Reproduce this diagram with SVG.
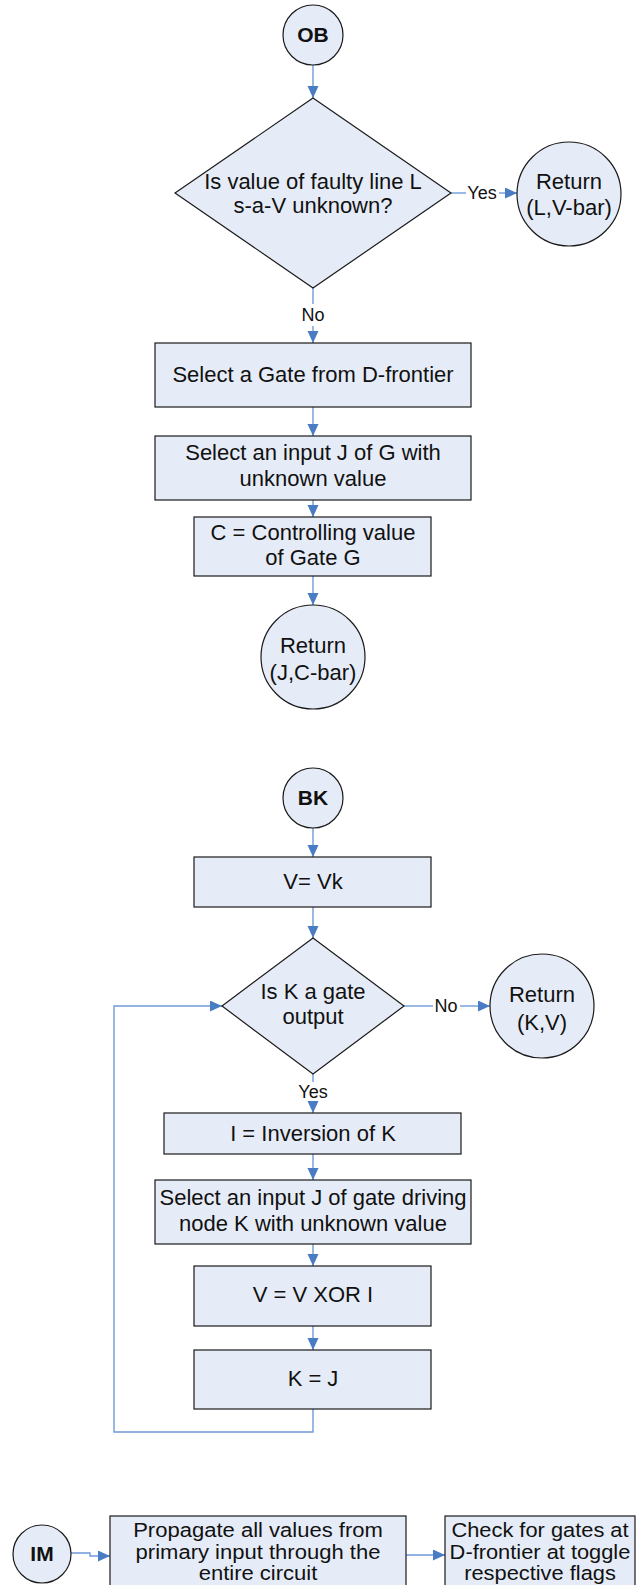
<svg xmlns="http://www.w3.org/2000/svg" width="638" height="1585" viewBox="0 0 638 1585">
<style>
.n{fill:#e6ecf7;stroke:#1a1a1a;stroke-width:1.2}
.t{font-family:"Liberation Sans",Arial,sans-serif;font-size:22px;fill:#111;text-anchor:middle}
.b{font-family:"Liberation Sans",Arial,sans-serif;font-size:21px;font-weight:bold;fill:#111;text-anchor:middle}
.s{font-family:"Liberation Sans",Arial,sans-serif;font-size:19.5px;fill:#111;text-anchor:middle}
.l{font-family:"Liberation Sans",Arial,sans-serif;font-size:18px;fill:#111;text-anchor:middle}
.c{fill:none;stroke:#6f9bd8;stroke-width:1.4}
</style>
<defs>
<marker id="a" markerUnits="userSpaceOnUse" markerWidth="13" markerHeight="12" refX="12" refY="5.5" orient="auto">
<path d="M0,0 L12,5.5 L0,11 z" fill="#4a7cc4"/>
</marker>
</defs>
<rect width="638" height="1585" fill="#fff"/>
<g id="connectors">
<path class="c" d="M313,65 V98" marker-end="url(#a)"/>
<path class="c" d="M451,193 H466"/>
<path class="c" d="M499,193 H517" marker-end="url(#a)"/>
<path class="c" d="M313,288 V304"/>
<path class="c" d="M313,326 V343" marker-end="url(#a)"/>
<path class="c" d="M313,407 V436" marker-end="url(#a)"/>
<path class="c" d="M313,500 V517" marker-end="url(#a)"/>
<path class="c" d="M313,576 V605" marker-end="url(#a)"/>
<path class="c" d="M313,828 V857" marker-end="url(#a)"/>
<path class="c" d="M313,907 V938" marker-end="url(#a)"/>
<path class="c" d="M404,1006 H433"/>
<path class="c" d="M460,1006 H490" marker-end="url(#a)"/>
<path class="c" d="M313,1074 V1082"/>
<path class="c" d="M313,1102 V1113" marker-end="url(#a)"/>
<path class="c" d="M313,1154 V1180" marker-end="url(#a)"/>
<path class="c" d="M313,1244 V1266" marker-end="url(#a)"/>
<path class="c" d="M313,1326 V1350" marker-end="url(#a)"/>
<path class="c" d="M313,1409 V1432 H114 V1006 H222" marker-end="url(#a)"/>
<path class="c" d="M71,1553 H90 V1556 H110" marker-end="url(#a)"/>
<path class="c" d="M406,1555 H445" marker-end="url(#a)"/>
<text class="l" x="482" y="199">Yes</text>
<text class="l" x="313" y="321">No</text>
<text class="l" x="446" y="1012">No</text>
<text class="l" x="313" y="1098">Yes</text>
</g>
<g id="OB"><circle class="n" cx="313" cy="35" r="30"/><text class="b" x="313" y="42">OB</text></g>
<g id="D1"><path class="n" d="M313,98 L451,193 L313,288 L175,193 z"/><text class="t" x="313" y="189">Is value of faulty line L</text><text class="t" x="313" y="213">s-a-V unknown?</text></g>
<g id="RetL"><circle class="n" cx="569" cy="194" r="52"/><text class="t" x="569" y="189">Return</text><text class="t" x="569" y="215">(L,V-bar)</text></g>
<g id="B1"><rect class="n" x="155" y="343" width="316" height="64"/><text class="t" x="313" y="382">Select a Gate from D-frontier</text></g>
<g id="B2"><rect class="n" x="155" y="436" width="316" height="64"/><text class="t" x="313" y="460">Select an input J of G with</text><text class="t" x="313" y="486">unknown value</text></g>
<g id="B3"><rect class="n" x="194" y="517" width="237" height="59"/><text class="t" x="313" y="540">C = Controlling value</text><text class="t" x="313" y="565">of Gate G</text></g>
<g id="RetJ"><circle class="n" cx="313" cy="657" r="52"/><text class="t" x="313" y="653">Return</text><text class="t" x="313" y="680">(J,C-bar)</text></g>
<g id="BK"><circle class="n" cx="313" cy="798" r="30"/><text class="b" x="313" y="805">BK</text></g>
<g id="B4"><rect class="n" x="194" y="857" width="237" height="50"/><text class="t" x="313" y="889">V= Vk</text></g>
<g id="D2"><path class="n" d="M313,938 L404,1006 L313,1074 L222,1006 z"/><text class="t" x="313" y="999">Is K a gate</text><text class="t" x="313" y="1024">output</text></g>
<g id="RetK"><circle class="n" cx="542" cy="1006" r="52"/><text class="t" x="542" y="1002">Return</text><text class="t" x="542" y="1030">(K,V)</text></g>
<g id="B5"><rect class="n" x="164" y="1113" width="297" height="41"/><text class="t" x="313" y="1141">I = Inversion of K</text></g>
<g id="B6"><rect class="n" x="155" y="1180" width="316" height="64"/><text class="t" x="313" y="1205">Select an input J of gate driving</text><text class="t" x="313" y="1231">node K with unknown value</text></g>
<g id="B7"><rect class="n" x="194" y="1266" width="237" height="60"/><text class="t" x="313" y="1302">V = V XOR I</text></g>
<g id="B8"><rect class="n" x="194" y="1350" width="237" height="59"/><text class="t" x="313" y="1386">K = J</text></g>
<g id="IM"><circle class="n" cx="42" cy="1554" r="29"/><text class="b" x="42" y="1561">IM</text></g>
<g id="B9"><rect class="n" x="110" y="1516" width="296" height="85"/><text class="s" transform="translate(258,1537) scale(1.13,1)">Propagate all values from</text><text class="s" transform="translate(258,1559) scale(1.13,1)">primary input through the</text><text class="s" transform="translate(258,1580) scale(1.13,1)">entire circuit</text></g>
<g id="B10"><rect class="n" x="445" y="1516" width="190" height="85"/><text class="s" transform="translate(540,1537) scale(1.12,1)">Check for gates at</text><text class="s" transform="translate(540,1559) scale(1.12,1)">D-frontier at toggle</text><text class="s" transform="translate(540,1580) scale(1.12,1)">respective flags</text></g>
</svg>
